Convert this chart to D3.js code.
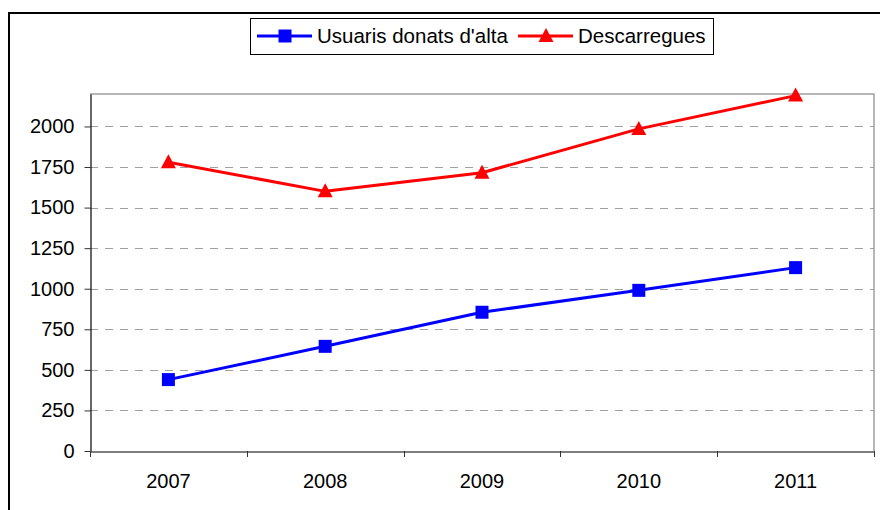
<!DOCTYPE html>
<html>
<head>
<meta charset="utf-8">
<script src="https://cdn.jsdelivr.net/npm/d3@7/dist/d3.min.js"></script>
<style>
  html, body { margin: 0; padding: 0; background: #fff; }
  svg { display: block; font-family: "Liberation Sans", Arial, Helvetica, sans-serif; }
</style>
</head>
<body>
<svg id="chart" width="880" height="510"></svg>
<script>
// Years on the category axis
const years = ["2007", "2008", "2009", "2010", "2011"];
// Registered users per year
const usuaris = [440, 645, 855, 990, 1130];
// Downloads per year
const descarregues = [1780, 1600, 1715, 1985, 2190];
// Value axis ticks
const yTicks = [0, 250, 500, 750, 1000, 1250, 1500, 1750, 2000];
const seriesNames = ["Usuaris donats d'alta", "Descarregues"];

const svg = d3.select("#chart");
const W = 880, H = 510;
const plot = { left: 90, right: 874, top: 94, bottom: 451 };
const FONT = "Liberation Sans, Arial, sans-serif";

// outer frame (top and left edges)
svg.append("path")
  .attr("d", `M9,${H} L9,13 L${W},13`)
  .attr("fill", "none").attr("stroke", "#000").attr("stroke-width", 2);

const x = d3.scaleBand().domain(years).range([plot.left, plot.right]);
const y = d3.scaleLinear().domain([0, 2200]).range([plot.bottom, plot.top]);

// plot area frame (top and right in grey)
svg.append("path")
  .attr("d", `M${plot.left},${plot.top} L${plot.right},${plot.top} L${plot.right},${plot.bottom}`)
  .attr("fill", "none").attr("stroke", "#a0a0a0").attr("stroke-width", 1.5);

// dashed gridlines
svg.append("g").selectAll("line")
  .data(yTicks.filter(d => d > 0))
  .join("line")
  .attr("x1", plot.left).attr("x2", plot.right)
  .attr("y1", d => Math.round(y(d)) + 0.5).attr("y2", d => Math.round(y(d)) + 0.5)
  .attr("stroke", "#a0a0a0").attr("stroke-width", 1)
  .attr("stroke-dasharray", "8,7");

// y axis
const yAxis = d3.axisLeft(y).tickValues(yTicks).tickFormat(d3.format("d"))
  .tickSize(6).tickSizeOuter(0).tickPadding(10);
const gy = svg.append("g").attr("transform", `translate(${plot.left + 0.5},0)`).call(yAxis);
gy.select(".domain").attr("stroke", "#000").attr("stroke-width", 1.2);
gy.selectAll(".tick line").attr("stroke", "#333");
gy.selectAll(".tick text").attr("font-size", 20).attr("fill", "#000").attr("font-family", FONT);

// x axis, ticks on the category boundaries
const xAxis = d3.axisBottom(x).tickSize(0).tickSizeOuter(0).tickPadding(22);
const gx = svg.append("g").attr("transform", `translate(0,${plot.bottom + 0.5})`).call(xAxis);
gx.select(".domain").attr("stroke", "#000").attr("stroke-width", 1.2);
gx.selectAll(".tick text").attr("font-size", 20).attr("fill", "#000").attr("font-family", FONT);
const bounds = years.map(d => x(d)).concat([x(years[years.length - 1]) + x.bandwidth()]);
svg.append("g").selectAll("line").data(bounds).join("line")
  .attr("x1", d => Math.round(d) + 0.5).attr("x2", d => Math.round(d) + 0.5)
  .attr("y1", plot.bottom).attr("y2", plot.bottom + 6)
  .attr("stroke", "#333").attr("stroke-width", 1);

const cx = d => x(d) + x.bandwidth() / 2;
const line = d3.line().x(d => cx(d.year)).y(d => y(d.v));

function drawSeries(values, color, marker) {
  const data = years.map((yr, i) => ({ year: yr, v: values[i] }));
  svg.append("path").datum(data)
    .attr("d", line).attr("fill", "none")
    .attr("stroke", color).attr("stroke-width", 3).attr("stroke-linejoin", "round");
  svg.append("g").selectAll("path").data(data).join("path")
    .attr("transform", d => `translate(${cx(d.year)},${y(d.v)})`)
    .attr("d", marker).attr("fill", color);
}

const square = "M-6.5,-6.5 H6.5 V6.5 H-6.5 Z";
const triangle = "M0,-8 L7.5,6 L-7.5,6 Z";

drawSeries(usuaris, "#0000ff", square);
drawSeries(descarregues, "#ff0000", triangle);

// legend
const lg = svg.append("g");
lg.append("rect").attr("x", 250.5).attr("y", 18.5).attr("width", 463).attr("height", 36)
  .attr("fill", "#fff").attr("stroke", "#000").attr("stroke-width", 1);
const legendItems = [
  { name: seriesNames[0], color: "#0000ff", marker: square, x0: 257 },
  { name: seriesNames[1], color: "#ff0000", marker: triangle, x0: 518 }
];
legendItems.forEach(it => {
  lg.append("line").attr("x1", it.x0).attr("x2", it.x0 + 55).attr("y1", 36).attr("y2", 36)
    .attr("stroke", it.color).attr("stroke-width", 3);
  lg.append("path").attr("transform", `translate(${it.x0 + 28},36)`).attr("d", it.marker).attr("fill", it.color);
  lg.append("text").attr("x", it.x0 + 60).attr("y", 36).attr("dy", "0.35em")
    .attr("font-size", 20.5).attr("font-family", FONT).attr("fill", "#000").text(it.name);
});
</script>
</body>
</html>
